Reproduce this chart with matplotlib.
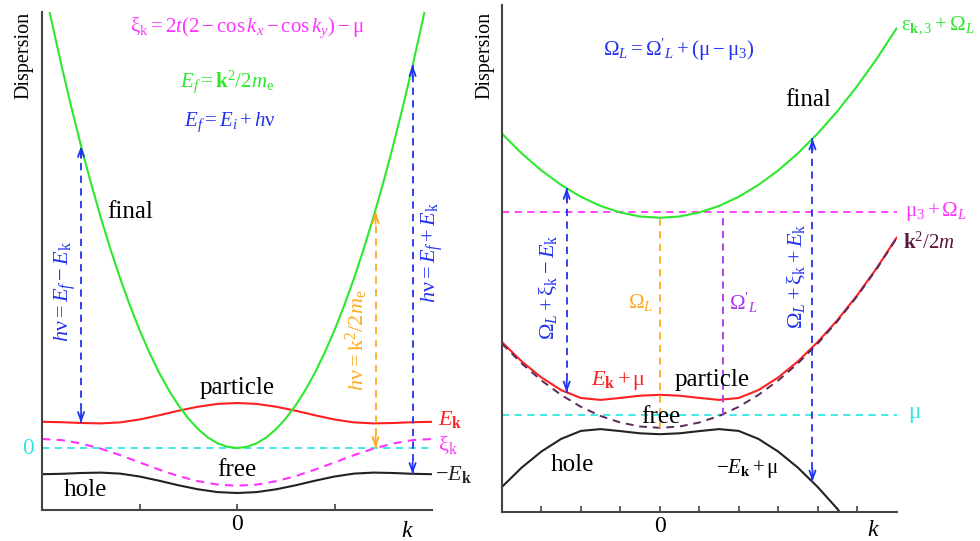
import numpy as np
import matplotlib
matplotlib.use("Agg")
import matplotlib.pyplot as plt

plt.rcParams['font.family'] = ['Liberation Serif', 'DejaVu Serif']
plt.rcParams['mathtext.fontset'] = 'custom'
plt.rcParams['mathtext.rm'] = 'Liberation Serif'
plt.rcParams['mathtext.it'] = 'Liberation Serif:italic'
plt.rcParams['mathtext.bf'] = 'Liberation Serif:bold'

# ---- left panel: ARPES final state picture ----
k_band = [-2.0, -1.8, -1.6, -1.4, -1.2, -1.0, -0.8, -0.6, -0.4, -0.2, 0.0,
          0.2, 0.4, 0.6, 0.8, 1.0, 1.2, 1.4, 1.6, 1.8, 2.0]
xi_left = [0.09, 0.079, 0.045, -0.006, -0.071, -0.144, -0.216, -0.281, -0.332, -0.366, -0.377,
           -0.366, -0.332, -0.281, -0.216, -0.144, -0.071, -0.006, 0.045, 0.079, 0.09]
ek_left = [0.262, 0.258, 0.250, 0.246, 0.256, 0.285, 0.327, 0.373, 0.413, 0.441, 0.45,
           0.441, 0.413, 0.373, 0.327, 0.285, 0.256, 0.246, 0.250, 0.258, 0.262]
hole_left = [-0.262, -0.258, -0.250, -0.246, -0.256, -0.285, -0.327, -0.373, -0.413, -0.441, -0.45,
             -0.441, -0.413, -0.373, -0.327, -0.285, -0.256, -0.246, -0.250, -0.258, -0.262]
k_final = [-1.92, -1.9, -1.8, -1.7, -1.6, -1.5, -1.4, -1.3, -1.2, -1.1, -1.0, -0.9, -0.8, -0.7,
           -0.6, -0.5, -0.4, -0.3, -0.2, -0.1, 0.0, 0.1, 0.2, 0.3, 0.4, 0.5, 0.6, 0.7, 0.8,
           0.9, 1.0, 1.1, 1.2, 1.3, 1.4, 1.5, 1.6, 1.7, 1.8, 1.9, 1.92]
final_left = [4.35, 4.26, 3.823, 3.41, 3.021, 2.655, 2.313, 1.994, 1.699, 1.428, 1.18, 0.956,
              0.755, 0.578, 0.425, 0.295, 0.189, 0.106, 0.047, 0.012, 0.0, 0.012, 0.047, 0.106,
              0.189, 0.295, 0.425, 0.578, 0.755, 0.956, 1.18, 1.428, 1.699, 1.994, 2.313, 2.655,
              3.021, 3.41, 3.823, 4.26, 4.35]
# arrows: k, bottom, top, colour
arrows_left = [(-1.6, 0.25, 3.02, '#2233ee'), (1.8, -0.26, 3.83, '#2233ee'), (1.42, 0.0, 2.36, '#ffaa22')]

# ---- right panel: RIXS picture ----
k_r = [-4.0, -3.5, -3.0, -2.5, -2.0, -1.5, -1.0, -0.5, 0.0, 0.5, 1.0, 1.5, 2.0, 2.5,
       3.0, 3.5, 4.0, 4.5, 5.0, 5.5, 6.0]
free_r = [1.679, 1.481, 1.310, 1.166, 1.047, 0.955, 0.890, 0.850, 0.837, 0.850, 0.890, 0.955,
          1.047, 1.166, 1.310, 1.481, 1.679, 1.902, 2.152, 2.428, 2.731]
particle_r = [1.694, 1.501, 1.340, 1.214, 1.135, 1.116, 1.136, 1.158, 1.167, 1.158, 1.136, 1.116,
              1.135, 1.214, 1.340, 1.501, 1.694, 1.913, 2.161, 2.435, 2.737]
final_r = [3.779, 3.581, 3.410, 3.266, 3.147, 3.055, 2.990, 2.950, 2.937, 2.950, 2.990, 3.055,
           3.147, 3.266, 3.410, 3.581, 3.779, 4.002, 4.252, 4.528, 4.831]
k_hole = [-4.0, -3.5, -3.0, -2.5, -2.0, -1.5, -1.0, -0.5, 0.0, 0.5, 1.0, 1.5, 2.0, 2.5,
          3.0, 3.5, 4.0, 4.5, 4.55]
hole_r = [0.246, 0.439, 0.600, 0.726, 0.806, 0.824, 0.804, 0.782, 0.773, 0.782, 0.804, 0.824,
          0.806, 0.726, 0.600, 0.439, 0.246, 0.027, 0.0]
mu = 0.97
mu3_omega = 2.99
arrows_right = [(-2.36, 1.19, 3.235, '#2233ee'), (3.87, 0.30, 3.73, '#2233ee')]
lines_right = [(0.0, 0.837, 2.94, '#ffaa22'), (1.59, mu, mu3_omega, '#aa33ee')]

green = '#2ee82e'
red = '#ff2020'
magenta = '#ff33ff'
cyan = '#33e6e6'
blue = '#2233ee'
orange = '#ffaa22'
purple = '#aa33ee'
dash = (0, (4, 3))

fig = plt.figure(figsize=(9.8, 5.41), dpi=100)
ax1 = fig.add_axes([0.0429, 0.0573, 0.398, 0.9205])
ax2 = fig.add_axes([0.5122, 0.0545, 0.4026, 0.9363])

def style(ax, ticks, lims, ylims):
    ax.set_xlim(*lims)
    ax.set_ylim(*ylims)
    for s in ['top', 'right']:
        ax.spines[s].set_visible(False)
    for s in ['left', 'bottom']:
        ax.spines[s].set_color('#444444')
        ax.spines[s].set_linewidth(1.5)
    ax.set_yticks([])
    ax.set_xticks(ticks)
    ax.set_xticklabels(['0' if t == 0 else '' for t in ticks])
    ax.tick_params(axis='x', direction='in', length=4, width=1.2, color='#444444',
                   labelsize=17, pad=3)

def arrow(ax, k, lo, hi, c, heads=True):
    ax.plot([k, k], [lo, hi], color=c, lw=1.3, ls=dash)
    if heads:
        for tip, base in [(hi, hi - 0.12), (lo, lo + 0.12)]:
            ax.annotate('', xy=(k, tip), xytext=(k, base),
                        arrowprops=dict(arrowstyle='->,head_length=0.6,head_width=0.22',
                                        color=c, lw=1.3, shrinkA=0, shrinkB=0))

# left panel
style(ax1, [-1, 0, 1], (-2, 2), (-0.62, 4.36))
ax1.plot([-2, 2], [0, 0], color=cyan, lw=1.3, ls=dash)
ax1.plot(k_band, xi_left, color=magenta, lw=1.5, ls=dash)
ax1.plot(k_band, ek_left, color=red, lw=1.5)
ax1.plot(k_band, hole_left, color='#222222', lw=1.5)
ax1.plot(k_final, final_left, color=green, lw=1.5, clip_on=False)
for k, lo, hi, c in arrows_left:
    arrow(ax1, k, lo, hi, c)

t = dict(ha='center', va='center', clip_on=False)
lt = dict(ha='left', va='center', clip_on=False)
ax1.text(-2.19, 3.93, 'Dispersion', rotation=90, fontsize=14.5, **t)
ax1.text(0, 0.60, 'particle', fontsize=18, **t)
ax1.text(0, -0.22, 'free', fontsize=18, **t)
ax1.text(-1.56, -0.42, 'hole', fontsize=18, **t)
ax1.text(-1.10, 2.36, 'final', fontsize=18, **t)
ax1.text(0.10, 4.20, r'$\mathrm{\xi_k} = 2t(2 - \mathrm{cos}\,k_x - \mathrm{cos}\,k_y) - \mathrm{\mu}$',
         color=magenta, fontsize=15, **t)
ax1.text(-0.10, 3.66, r'$E_f = \mathbf{k}^2/2m_\mathrm{e}$', color=green, fontsize=15, **t)
ax1.text(-0.07, 3.26, r'$E_f = E_i + h\mathrm{\nu}$', color=blue, fontsize=15, **t)
ax1.text(-1.76, 1.56, r'$h\mathrm{\nu} = E_f - E_\mathrm{k}$', color=blue, fontsize=16, rotation=90, **t)
ax1.text(2.0, 1.95, r'$h\mathrm{\nu} = E_f + E_\mathrm{k}$', color=blue, fontsize=16, rotation=90, **t)
ax1.text(1.23, 1.08, r'$h\mathrm{\nu} = \mathrm{k}^2/2m_\mathrm{e}$', color=orange, fontsize=16, rotation=90, **t)
ax1.text(2.06, 0.29, r'$E_\mathbf{k}$', color=red, fontsize=16, **lt)
ax1.text(2.06, 0.03, r'$\mathrm{\xi_k}$', color=magenta, fontsize=16, **lt)
ax1.text(2.03, -0.26, r'$-E_\mathbf{k}$', color='#222222', fontsize=16, **lt)
ax1.text(-2.14, 0.0, '0', color=cyan, fontsize=17, **t)
ax1.text(1.75, -0.83, r'$k$', fontsize=17, **t)

# right panel
style(ax2, [-3, -2, -1, 0, 1, 2, 3, 4, 5], (-4, 6), (0, 5.065))
ax2.plot([-4, 6], [mu, mu], color=cyan, lw=1.3, ls=dash)
ax2.plot([-4, 6], [mu3_omega, mu3_omega], color=magenta, lw=1.3, ls=dash)
ax2.plot(k_r, particle_r, color=red, lw=1.5)
ax2.plot(k_r, free_r, color='#5a2a5a', lw=1.4, ls=dash)
ax2.plot(k_hole, hole_r, color='#222222', lw=1.5)
ax2.plot(k_r, final_r, color=green, lw=1.5)
for k, lo, hi, c in arrows_right:
    arrow(ax2, k, lo, hi, c)
for k, lo, hi, c in lines_right:
    arrow(ax2, k, lo, hi, c, heads=False)

ax2.text(-4.42, 4.565, 'Dispersion', rotation=90, fontsize=14.5, **t)
ax2.text(0.48, 4.615, r"$\Omega_L = \Omega'_L + (\mathrm{\mu} - \mathrm{\mu}_3)$", color=blue, fontsize=15, **t)
ax2.text(3.76, 4.115, 'final', fontsize=18, **t)
ax2.text(6.12, 4.865, r'$\mathrm{\varepsilon}_{\mathbf{k},3} + \Omega_L$', color=green, fontsize=15, **lt)
ax2.text(6.22, 2.995, r'$\mathrm{\mu}_3 + \Omega_L$', color=magenta, fontsize=15, **lt)
ax2.text(6.17, 2.68, r'$\mathbf{k}^2/2m$', color='#5a1a40', fontsize=15, **lt)
ax2.text(6.3, 0.975, r'$\mathrm{\mu}$', color=cyan, fontsize=17, **lt)
ax2.text(-2.84, 2.245, r'$\Omega_L + \mathrm{\xi_k} - E_\mathrm{k}$', color=blue, fontsize=16, rotation=90, **t)
ax2.text(3.45, 2.355, r'$\Omega_L + \mathrm{\xi_k} + E_\mathrm{k}$', color=blue, fontsize=16, rotation=90, **t)
ax2.text(-0.48, 2.085, r'$\Omega_L$', color=orange, fontsize=15, **t)
ax2.text(2.13, 2.085, r"$\Omega'_L$", color=purple, fontsize=15, **t)
ax2.text(-1.04, 1.315, r'$E_\mathbf{k} + \mathrm{\mu}$', color=red, fontsize=16, **t)
ax2.text(1.32, 1.315, 'particle', fontsize=18, **t)
ax2.text(0.03, 0.945, 'free', fontsize=18, **t)
ax2.text(-2.21, 0.465, 'hole', fontsize=18, **t)
ax2.text(2.23, 0.435, r'$-E_\mathbf{k} + \mathrm{\mu}$', fontsize=15, **t)
ax2.text(5.41, -0.19, r'$k$', fontsize=17, **t)

fig.savefig('out.png', dpi=100)
